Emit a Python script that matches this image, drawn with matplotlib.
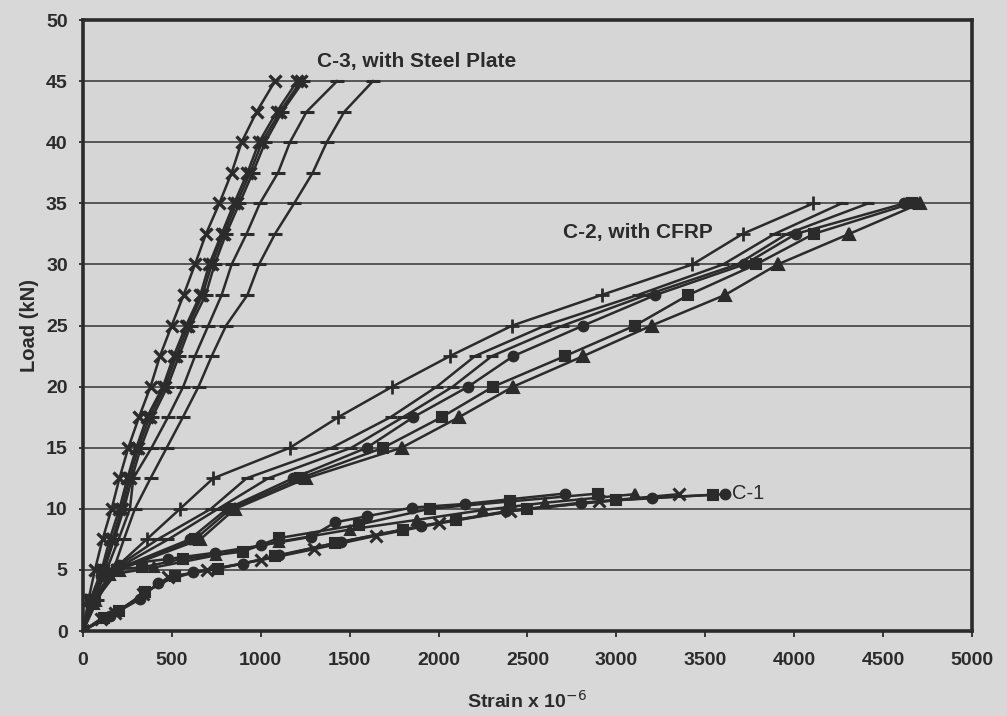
import matplotlib
matplotlib.use("Agg")
import matplotlib.pyplot as plt

plt.rcParams['font.family'] = ['Liberation Sans', 'DejaVu Sans']

# ---------------- data ----------------
# C-3 (steel plate): loads in 2.5 kN steps
c3_loads = [0, 2.5, 5, 7.5, 10, 12.5, 15, 17.5, 20, 22.5, 25, 27.5, 30, 32.5, 35, 37.5, 40, 42.5, 45]
c3_a = [0, 30, 67, 110, 161, 205, 255, 315, 380, 433, 499, 566, 630, 692, 767, 836, 892, 977, 1080]
c3_b = [0, 40, 105, 150, 205, 250, 300, 360, 450, 510, 580, 660, 710, 780, 850, 925, 990, 1090, 1205]
c3_c = [0, 45, 114, 165, 218, 262, 311, 375, 461, 525, 592, 672, 724, 792, 864, 940, 1007, 1108, 1225]
c3_d = [0, 50, 120, 175, 230, 275, 325, 390, 475, 540, 605, 690, 740, 805, 880, 955, 1025, 1120, 1240]
c3_e = [0, 60, 133, 200, 264, 283, 386, 478, 564, 630, 705, 780, 836, 920, 995, 1097, 1164, 1258, 1429]
c3_f = [0, 80, 171, 230, 292, 380, 471, 562, 650, 724, 805, 925, 990, 1080, 1188, 1292, 1371, 1470, 1631]

# C-2 (CFRP): loads in 2.5 kN steps
c2_loads = [0, 2.5, 5, 7.5, 10, 12.5, 15, 17.5, 20, 22.5, 25, 27.5, 30, 32.5, 35]
c2_p = [0, 70, 170, 358, 546, 733, 1164, 1436, 1740, 2064, 2415, 2917, 3428, 3710, 4108]
c2_q = [0, 60, 165, 420, 720, 920, 1400, 1730, 1990, 2205, 2600, 3120, 3600, 3890, 4267]
c2_r = [0, 60, 175, 480, 760, 1042, 1510, 1800, 2080, 2300, 2700, 3170, 3680, 3960, 4417]
c2_s = [0, 60, 180, 600, 810, 1181, 1596, 1858, 2167, 2420, 2814, 3220, 3720, 4010, 4620]
c2_t = [0, 65, 190, 630, 830, 1220, 1689, 2017, 2308, 2711, 3105, 3405, 3785, 4110, 4660]
c2_u = [0, 70, 200, 660, 855, 1256, 1792, 2115, 2420, 2814, 3198, 3611, 3907, 4310, 4710]

# C-1 (control): (strain, load) readings
c1_1_strain = [0, 40, 100, 200, 480, 740, 1000, 1280, 1420, 1600, 1850, 2150, 2711]
c1_1_load = [0, 2.5, 4.5, 5.4, 5.9, 6.4, 7.0, 7.7, 8.9, 9.4, 10.1, 10.4, 11.25]
c1_2_strain = [0, 50, 120, 330, 560, 900, 1100, 1550, 1950, 2400, 2899]
c1_2_load = [0, 2.5, 5.0, 5.2, 5.9, 6.5, 7.6, 8.7, 10.0, 10.6, 11.25]
c1_3_strain = [0, 60, 150, 400, 750, 1100, 1500, 1880, 2250, 2600, 3105]
c1_3_load = [0, 2.2, 4.6, 5.2, 6.2, 7.3, 8.3, 9.1, 9.9, 10.5, 11.2]
c1_4_strain = [0, 100, 180, 340, 480, 700, 1000, 1300, 1650, 2000, 2400, 2900, 3352]
c1_4_load = [0, 1.0, 1.5, 3.0, 4.4, 5.0, 5.8, 6.7, 7.8, 8.8, 9.8, 10.6, 11.2]
c1_5_strain = [0, 120, 200, 350, 520, 760, 1080, 1420, 1800, 2100, 2500, 3000, 3545]
c1_5_load = [0, 1.1, 1.6, 3.2, 4.5, 5.1, 6.1, 7.2, 8.3, 9.1, 10.0, 10.7, 11.15]
c1_6_strain = [0, 150, 320, 420, 620, 900, 1100, 1450, 1900, 2380, 2800, 3200, 3611]
c1_6_load = [0, 1.2, 2.6, 3.9, 4.8, 5.5, 6.2, 7.3, 8.6, 9.8, 10.5, 10.9, 11.2]

x_ticks = [0, 500, 1000, 1500, 2000, 2500, 3000, 3500, 4000, 4500, 5000]
y_ticks = [0, 5, 10, 15, 20, 25, 30, 35, 40, 45, 50]

# ---------------- styling ----------------
BG = '#d8d8d8'
INK = '#2b2b2b'

fig = plt.figure(figsize=(10.07, 7.16), dpi=100, facecolor=BG)
ax = fig.add_axes([0.0824, 0.1187, 0.8828, 0.8533], facecolor='#d6d6d6')

lw = 1.8
def plot(x, y, marker, ms=7, mew=1.5):
    ax.plot(x, y, color=INK, lw=lw, marker=marker, ms=ms, mew=mew,
            mfc=INK, mec=INK, zorder=3)

# C-3
plot(c3_a, c3_loads, 'x', ms=9, mew=2.4)
plot(c3_b, c3_loads, 'x', ms=9, mew=2.4)
plot(c3_c, c3_loads, 'x', ms=9, mew=2.4)
plot(c3_d, c3_loads, '_', ms=10, mew=2.2)
plot(c3_e, c3_loads, '_', ms=10, mew=2.2)
plot(c3_f, c3_loads, '_', ms=10, mew=2.2)

# C-2
plot(c2_p, c2_loads, '+', ms=10, mew=2)
plot(c2_q, c2_loads, '_', ms=9, mew=2.2)
plot(c2_r, c2_loads, '_', ms=9, mew=2.2)
plot(c2_s, c2_loads, 'o', ms=7)
plot(c2_t, c2_loads, 's', ms=7)
plot(c2_u, c2_loads, '^', ms=8)

# C-1
plot(c1_1_strain, c1_1_load, 'o', ms=7)
plot(c1_2_strain, c1_2_load, 's', ms=7)
plot(c1_3_strain, c1_3_load, '^', ms=7)
plot(c1_4_strain, c1_4_load, 'x', ms=8, mew=2.2)
plot(c1_5_strain, c1_5_load, 's', ms=7)
plot(c1_6_strain, c1_6_load, 'o', ms=7)

# annotations
ax.text(1316, 46.6, 'C-3, with Steel Plate', fontsize=15, fontweight='bold',
        color=INK, va='center', ha='left')
ax.text(2700, 32.6, 'C-2, with CFRP', fontsize=15, fontweight='bold',
        color=INK, va='center', ha='left')
ax.text(3650, 11.25, 'C-1', fontsize=14.5, color=INK, va='center', ha='left')

# axes
ax.set_xlim(0, 5000)
ax.set_ylim(0, 50)
ax.set_xticks(x_ticks)
ax.set_yticks(y_ticks)
ax.set_xticklabels([str(v) for v in x_ticks], fontsize=14, fontweight='bold', color=INK)
ax.set_yticklabels([str(v) for v in y_ticks], fontsize=14, fontweight='bold', color=INK)
ax.yaxis.grid(True, color='#333333', lw=1.1)
ax.xaxis.grid(False)
ax.set_axisbelow(True)
ax.tick_params(axis='x', direction='out', length=4, width=1.3, pad=11, colors=INK)
ax.tick_params(axis='y', direction='out', length=3, width=1.3, pad=8, colors=INK)
for s in ax.spines.values():
    s.set_linewidth(2.6)
    s.set_color(INK)

ax.set_xlabel('Strain x 10$^{-6}$', fontsize=14, fontweight='bold', color=INK, labelpad=15)
ax.set_ylabel('Load (kN)', fontsize=14.5, fontweight='bold', color=INK, labelpad=5)

fig.savefig('out.png', dpi=100, facecolor=BG)
